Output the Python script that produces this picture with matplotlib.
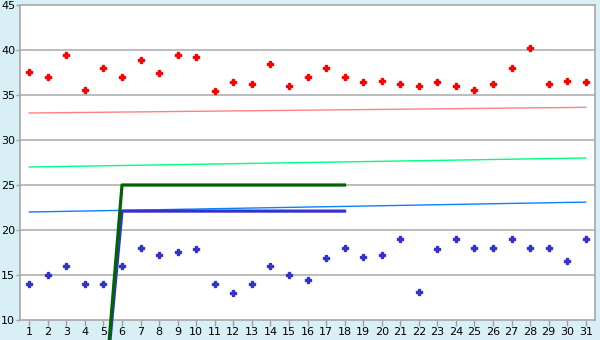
import numpy as np
import matplotlib
matplotlib.use("Agg")
import matplotlib.pyplot as plt

days = list(range(1, 32))

high_values = [37.6, 37.0, 39.4, 35.6, 38.0, 37.0, 38.9, 37.5, 39.5, 39.2,
               35.4, 36.4, 36.2, 38.5, 36.0, 37.0, 38.0, 37.0, 36.4, 36.6,
               36.2, 36.0, 36.4, 36.0, 35.6, 36.2, 38.0, 40.2, 36.2, 36.6, 36.4]

low_values = [14.0, 15.0, 16.0, 14.0, 14.0, 16.0, 18.0, 17.2, 17.6, 17.85,
              14.0, 13.0, 14.0, 16.0, 15.0, 14.4, 16.85, 18.0, 17.0, 17.2,
              19.0, 13.1, 17.85, 19.0, 18.0, 18.0, 19.0, 18.0, 18.0, 16.6, 19.0]

# trend lines (value at day 1, value at day 31)
red_trend = [33.0, 33.63]
green_trend = [27.0, 28.0]
blue_trend = [22.0, 23.1]

# stepped lines: (day, value)
green_step_x = [5, 6, 18]
green_step_y = [0, 25.0, 25.0]
blue_step_x = [5, 6, 18]
blue_step_y = [0, 22.1, 22.1]

ytick_vals = [10, 15, 20, 25, 30, 35, 40, 45]

bg = '#d9eff6'
fig = plt.figure(figsize=(6, 3.4), dpi=100, facecolor=bg)
ax = fig.add_axes([20 / 600, 1 - 320 / 340, 575 / 600, 315 / 340])
ax.set_facecolor('white')

ax.set_xlim(0.5, 31.5)
ax.set_ylim(10, 45)

for y in ytick_vals[1:-1]:
    ax.axhline(y, color='#b0b0b0', lw=1.2, zorder=1)

trend_x = [days[0], days[-1]]
ax.plot(trend_x, red_trend, color='#ff8080', lw=1.0, zorder=2)
ax.plot(trend_x, green_trend, color='#00ff80', lw=1.0, zorder=2)
ax.plot(trend_x, blue_trend, color='#0a80ff', lw=1.0, zorder=2)

ax.plot(blue_step_x, blue_step_y, color='#3333cc', lw=2.3, zorder=3, clip_on=False)
ax.plot(green_step_x, green_step_y, color='#006400', lw=2.3, zorder=3, clip_on=False)

ax.plot(days, high_values, linestyle='none', marker='P', markersize=5.0,
        color='#ff0000', markeredgewidth=1.0, zorder=4)
ax.plot(days, low_values, linestyle='none', marker='P', markersize=5.0,
        color='#3333cc', markeredgewidth=1.0, zorder=4)

ax.set_xticks(days)
ax.set_xticklabels([str(d) for d in days])
ax.set_yticks(ytick_vals)
ax.tick_params(axis='both', colors='#a0a0a0', labelcolor='black', labelsize=8,
               width=1)
ax.tick_params(axis='x', length=4, pad=1)
ax.tick_params(axis='y', length=3, pad=0.5)

for s in ax.spines.values():
    s.set_color('#a8a8a8')
    s.set_linewidth(1.2)

fig.savefig('out.png', dpi=100, facecolor=bg)
